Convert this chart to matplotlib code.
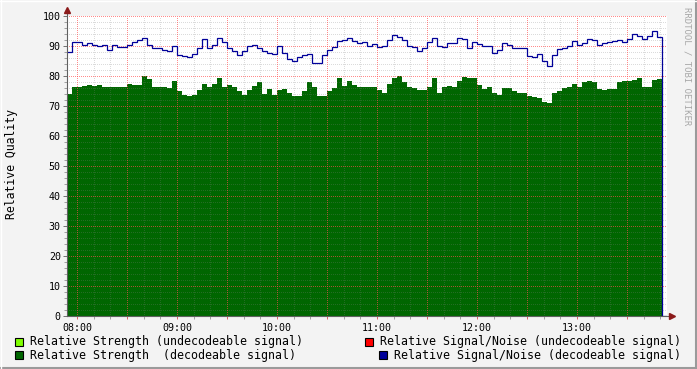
import matplotlib
matplotlib.use("Agg")
import matplotlib.pyplot as plt
import numpy as np
from matplotlib.patches import Rectangle
from matplotlib.lines import Line2D

plt.rcParams['font.family'] = ['DejaVu Sans Mono']

# ---- data (3-minute steps starting 07:54, minutes after midnight) ----
start_min = 474
step_min = 3

strength_decodeable = [
    74, 76.3, 76.3, 76.8, 77, 76.8, 77, 76.3, 76.3, 76.3,
    76.3, 76.3, 77.3, 77, 77, 80, 79, 76.3, 76.3,
    76.3, 76.1, 78.5, 75, 73.8, 73.4, 73.8, 75.5, 77.5, 76.3,
    77.5, 79.4, 76.5, 77, 76.5, 75, 73.8, 75.5, 76.8, 78,
    74, 75.8, 73.8, 75.5, 75.8, 74.5, 73.5, 73.4, 75, 78,
    76.5, 73.2, 73.4, 75, 76, 79.4, 76.8, 78.5, 77, 76.3,
    76.3, 76.3, 76.3, 75.3, 74.5, 77.3, 79.4, 80, 78, 76.3,
    76, 75.3, 75.5, 76.5, 79.5, 74.5, 76.3, 76.8, 76.3, 78.5,
    79.7, 79.4, 79.4, 77, 75.6, 76.3, 74.5, 73.8, 76, 76,
    75, 74.2, 74.5, 73.4, 73, 72.8, 71.5, 71, 74.5, 75,
    76, 76.5, 77.5, 76.2, 78, 78.3, 78, 75.6, 75.3, 75.8,
    75.6, 78, 78.5, 78.3, 78.6, 79.4, 76.3, 76.3, 78.6, 79,
    0,
]

snr_decodeable = [
    88, 91.2, 91.2, 90.5, 91, 90.5, 90, 90.2, 88.8, 90.2,
    89.7, 89.8, 90.5, 91.2, 92, 92.7, 90.5, 89.5, 89.2,
    88.6, 88.4, 90, 87, 86.8, 86.2, 87.2, 89.5, 92.3, 89.2,
    90.5, 92.6, 91.2, 89.5, 88.4, 87, 88.4, 90.1, 90.5, 89.5,
    88.4, 87.8, 87.5, 90, 87.6, 85.8, 85, 86.2, 87, 87.2,
    84.5, 84.5, 87, 88.8, 89.8, 91.7, 92, 92.7, 91.6, 91,
    91.5, 90, 90.7, 89.7, 90, 92, 93.6, 93.1, 92, 90,
    89.8, 88.4, 89.5, 91.5, 92.8, 90, 89.6, 91, 91, 92.6,
    92.5, 89.2, 91.2, 90.6, 90, 90.1, 87.7, 88.6, 91, 90.2,
    89.5, 89.2, 89.5, 86.7, 86.2, 87.5, 85, 83.2, 87, 89,
    89.2, 90, 91.6, 90.3, 91.1, 92.5, 92, 90.3, 91, 91.2,
    91.6, 92, 91.2, 92.4, 93.9, 93.3, 92.2, 93.5, 95.1, 93,
    0,
]

hour_ticks = [480, 540, 600, 660, 720, 780]
hour_labels = ['08:00', '09:00', '10:00', '11:00', '12:00', '13:00']
y_ticks = [0, 10, 20, 30, 40, 50, 60, 70, 80, 90, 100]

legend_items = [
    ('Relative Strength (undecodeable signal)', '#80ff00'),
    ('Relative Strength  (decodeable signal)', '#006600'),
    ('Relative Signal/Noise (undecodeable signal)', '#ff0000'),
    ('Relative Signal/Noise (decodeable signal)', '#000099'),
]

# ---- figure ----
W, H = 697, 369
fig = plt.figure(figsize=(W / 100, H / 100), dpi=100, facecolor='#f3f3f3')
ax = fig.add_axes([67 / W, 53 / H, 600 / W, 300 / H])
ax.set_facecolor('white')
xmin, xmax = start_min, start_min + step_min * len(strength_decodeable)
ax.set_xlim(xmin, xmax)
ax.set_ylim(0, 100)

edges = start_min + step_min * np.arange(len(strength_decodeable) + 1)
ax.stairs(strength_decodeable, edges, fill=True, color='#006600', baseline=0, zorder=2)
ax.stairs(snr_decodeable, edges, color='#000099', lw=0.9, baseline=None, zorder=4)

# grid (dotted)
minor_col = (0.5, 0.5, 0.5, 0.28)
major_col = (1.0, 0.3, 0.3, 0.65)
dot = (0, (1, 1.6))
ys_minor = [v for v in range(2, 101, 2) if v % 10]
ys_major = [v for v in range(10, 101, 10)]
xs_minor = [m for m in range(480, xmax, 10) if m % 30]
xs_major = [m for m in range(480, xmax, 30)]
kw = dict(linestyles=[dot], lw=0.72, zorder=3, antialiased=False)
ax.hlines(ys_minor, xmin, xmax, colors=[minor_col], **kw)
ax.vlines(xs_minor, 0, 100, colors=[minor_col], **kw)
ax.hlines(ys_major, xmin, xmax, colors=[major_col], **kw)
ax.vlines(xs_major, 0, 100, colors=[major_col], **kw)

for s in ax.spines.values():
    s.set_visible(False)

ax.set_yticks(y_ticks)
ax.set_yticklabels([str(v) for v in y_ticks])
ax.set_yticks(ys_minor, minor=True)
ax.tick_params(axis='y', which='major', length=3, width=0.7, color='#707070', pad=1.5, labelsize=7.2)
ax.tick_params(axis='y', which='minor', length=2, width=0.7, color='#a0a0a0')
ax.set_xticks(xs_major)
ax.set_xticklabels([hour_labels[hour_ticks.index(m)] if m in hour_ticks else '' for m in xs_major])
ax.set_xticks(xs_minor, minor=True)
ax.tick_params(axis='x', which='major', length=2.5, width=0.7, color='#e06060', pad=2.5, labelsize=7.2)
ax.tick_params(axis='x', which='minor', length=2, width=0.7, color='#a0a0a0')

# axes lines with arrows
ax.add_line(Line2D([0, 0], [0, (316 - 10) / 300], transform=ax.transAxes, color='#606060',
                   lw=0.8, clip_on=False, zorder=5))
ax.add_line(Line2D([0, (671 - 67) / 600], [0, 0], transform=ax.transAxes, color='#606060',
                   lw=0.8, clip_on=False, zorder=5))
ax.plot([0], [(316 - 10) / 300], marker='^', ms=4.5, color='#8b1a1a', transform=ax.transAxes,
        clip_on=False, zorder=6)
ax.plot([(672 - 67) / 600], [0], marker='>', ms=4.5, color='#8b1a1a', transform=ax.transAxes,
        clip_on=False, zorder=6)

# labels
fig.text(12 / W, 1 - 164 / H, 'Relative Quality', rotation=90, fontsize=8.3,
         ha='center', va='center')
fig.text(687 / W, 1 - 66 / H, 'RRDTOOL / TOBI OETIKER', rotation=270, fontsize=6.5,
         color='#a8a8a8', ha='center', va='center')

# legend
legend_pos = [(15, 338), (15, 351), (365, 338), (379, 351)]
for (label, col), (bx, by) in zip(legend_items, legend_pos):
    fig.add_artist(Rectangle((bx / W, 1 - (by + 8) / H), 8 / W, 8 / H, transform=fig.transFigure,
                             facecolor=col, edgecolor='black', lw=0.8))
    fig.text((bx + 15) / W, 1 - (by + 4) / H, label, fontsize=8.4, ha='left', va='center')

# border shading
fig.add_artist(Line2D([0, 1], [1 / H, 1 / H], transform=fig.transFigure, color='#9a9a9a', lw=1.5))
fig.add_artist(Line2D([1 - 1 / W, 1 - 1 / W], [0, 1], transform=fig.transFigure, color='#9a9a9a', lw=1.5))
fig.add_artist(Line2D([0, 1], [1 - 0.5 / H, 1 - 0.5 / H], transform=fig.transFigure, color='white', lw=1))
fig.add_artist(Line2D([0.5 / W, 0.5 / W], [0, 1], transform=fig.transFigure, color='white', lw=1))

fig.savefig('out.png', dpi=100, facecolor=fig.get_facecolor())
